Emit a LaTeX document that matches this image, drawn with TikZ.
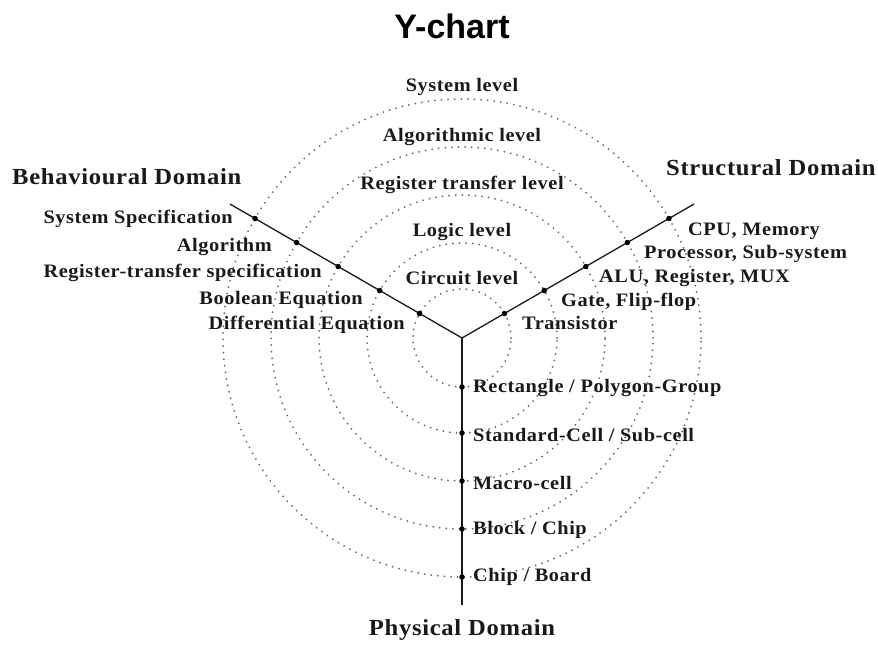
\documentclass[tikz,border=0pt]{standalone}
\usepackage{fontspec}
\setmainfont{Liberation Serif}
\newfontfamily\labfont[LetterSpace=3,FakeStretch=1.07]{Liberation Serif}
\newfontfamily\titlefont{Liberation Sans}
\usetikzlibrary{calc}
\begin{document}
\begin{tikzpicture}[x=1pt,y=-1pt,
 lvl/.style={font=\labfont\bfseries\fontsize{19}{21}\selectfont, inner sep=0pt, text=black!90},
 dom/.style={font=\labfont\bfseries\fontsize{23}{25}\selectfont, inner sep=0pt, text=black!90},
 ring/.style={draw=black!60, line width=2pt, dash pattern=on 0pt off 6.6pt, line cap=round},
 axisline/.style={line width=1.3pt, draw=black!90},
 dotmark/.style={circle, fill=black, inner sep=0pt, minimum size=5.5pt}]
\path[use as bounding box] (0,0) rectangle (878,645);
\coordinate (c) at (462,338);
% rings
\foreach \r in {49,95,143,191,239} \draw[ring] (c) circle (\r pt);
% axes
\coordinate (eL) at ($(c)+(150:268pt)$);
\coordinate (eR) at ($(c)+(30:268pt)$);
\coordinate (eB) at (462,605);
\draw[axisline] (eL) -- (c) -- (eR);
\draw[axisline] (c) -- (eB);
% dots
\foreach \r [count=\i] in {49,95,143,191,239} {
  \node[dotmark] (l\i) at ($(c)+(150:\r pt)$) {};
  \node[dotmark] (r\i) at ($(c)+(30:\r pt)$) {};
  \node[dotmark] (b\i) at ($(c)+(-90:\r pt)$) {};
}
% title
\node[font=\titlefont\bfseries\fontsize{34}{36}\selectfont, inner sep=0pt] (title) at (452,26) {Y-chart};
% level labels
\node[lvl] (sys) at (462,87) {System level};
\node[lvl] (alg) at (462,137) {Algorithmic level};
\node[lvl] (rtl) at (462,185) {Register transfer level};
\node[lvl] (log) at (462,232) {Logic level};
\node[lvl] (cir) at (462,278) {Circuit level};
% behavioural
\node[lvl, anchor=east] (bs) at (233,219) {System Specification};
\node[lvl, anchor=east] (ba) at (272,247) {Algorithm};
\node[lvl, anchor=east] (br) at (322,273) {Register-transfer specification};
\node[lvl, anchor=east] (bb) at (363,300) {Boolean Equation};
\node[lvl, anchor=east] (bd) at (405,325) {Differential Equation};
% structural
\node[lvl, anchor=west] (sc) at (688,231) {CPU, Memory};
\node[lvl, anchor=west] (sp) at (644,254) {Processor, Sub-system};
\node[lvl, anchor=west] (sa) at (599,278) {ALU, Register, MUX};
\node[lvl, anchor=west] (sg) at (561,302) {Gate, Flip-flop};
\node[lvl, anchor=west] (st) at (522,323) {Transistor};
% physical
\node[lvl, anchor=west] (pr) at (473,388) {Rectangle / Polygon-Group};
\node[lvl, anchor=west] (ps) at (473,435) {Standard-Cell / Sub-cell};
\node[lvl, anchor=west] (pm) at (473,483) {Macro-cell};
\node[lvl, anchor=west] (pb) at (473,530) {Block / Chip};
\node[lvl, anchor=west] (pc) at (473,577) {Chip / Board};
% domains
\node[dom, anchor=west] (dB) at (12,177) {Behavioural Domain};
\node[dom, anchor=west] (dS) at (666,168) {Structural Domain};
\node[dom] (dP) at (462,630) {Physical Domain};
\end{tikzpicture}
\end{document}
